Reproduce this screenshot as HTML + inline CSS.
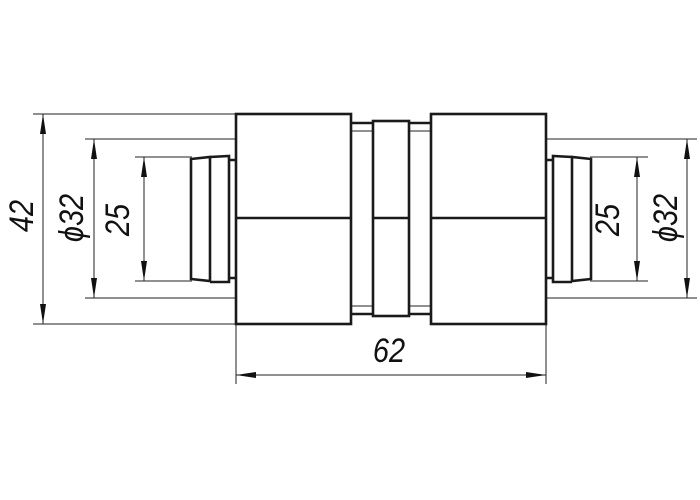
<!DOCTYPE html>
<html><head><meta charset="utf-8"><style>html,body{margin:0;padding:0;background:#fff}svg{display:block}</style></head>
<body>
<svg width="700" height="500" viewBox="0 0 700 500" xmlns="http://www.w3.org/2000/svg">
<defs>
<marker id="a" viewBox="0 0 20 6" refX="20" refY="3" markerWidth="20" markerHeight="6" markerUnits="userSpaceOnUse" orient="auto-start-reverse"><path d="M0,0 L20,3 L0,6 Z" fill="#111"/></marker>
</defs>
<g stroke="#222" stroke-width="1" fill="none">
<line x1="33" y1="114" x2="236" y2="114"/>
<line x1="33" y1="324" x2="236" y2="324"/>
<line x1="85" y1="139" x2="236" y2="139"/>
<line x1="85" y1="298" x2="236" y2="298"/>
<line x1="135" y1="157" x2="192" y2="157"/>
<line x1="135" y1="281" x2="192" y2="281"/>
<line x1="546" y1="139" x2="697" y2="139"/>
<line x1="546" y1="298" x2="697" y2="298"/>
<line x1="590" y1="157" x2="648" y2="157"/>
<line x1="590" y1="281" x2="648" y2="281"/>
<line x1="236" y1="324" x2="236" y2="384"/>
<line x1="546" y1="324" x2="546" y2="384"/>
<line x1="43" y1="114" x2="43" y2="324" marker-start="url(#a)" marker-end="url(#a)"/>
<line x1="94" y1="139" x2="94" y2="298" marker-start="url(#a)" marker-end="url(#a)"/>
<line x1="144" y1="157" x2="144" y2="281" marker-start="url(#a)" marker-end="url(#a)"/>
<line x1="637" y1="157" x2="637" y2="281" marker-start="url(#a)" marker-end="url(#a)"/>
<line x1="687" y1="139" x2="687" y2="298" marker-start="url(#a)" marker-end="url(#a)"/>
<line x1="236" y1="375" x2="546" y2="375" marker-start="url(#a)" marker-end="url(#a)"/>
<line x1="351" y1="131" x2="373" y2="131"/>
<line x1="351" y1="306" x2="373" y2="306"/>
<line x1="409" y1="131" x2="431" y2="131"/>
<line x1="409" y1="306" x2="431" y2="306"/>
</g>
<g stroke="#1a1a1a" stroke-width="2.6" fill="none" stroke-linejoin="miter">
<rect x="236" y="114" width="115" height="210"/>
<line x1="236" y1="218" x2="351" y2="218"/>
<rect x="431" y="114" width="115" height="210"/>
<line x1="431" y1="218" x2="546" y2="218"/>
<rect x="373" y="121" width="36" height="195"/>
<line x1="373" y1="218" x2="409" y2="218"/>
<line x1="351" y1="123" x2="373" y2="123"/>
<line x1="351" y1="314" x2="373" y2="314"/>
<line x1="409" y1="123" x2="431" y2="123"/>
<line x1="409" y1="314" x2="431" y2="314"/>
<path d="M191,159 L210,157 L210,281 L191,279 Z"/>
<path d="M210,157 L229,156 L229,282 L210,282"/>
<path d="M229,160 L236,160 M229,278 L236,278"/>
<path d="M591,159 L572,157 L572,281 L591,279 Z"/>
<path d="M572,157 L553,156 L553,282 L572,282"/>
<path d="M553,160 L546,160 M553,278 L546,278"/>
</g>
<g font-family="Liberation Sans, sans-serif" font-style="italic" font-size="34" fill="#111" text-anchor="middle">
<text transform="translate(389,362) scale(0.85,1)">62</text>
<text transform="translate(33,216) rotate(-90) scale(0.85,1)">42</text>
<text transform="translate(83,218) rotate(-90) scale(0.85,1)">ϕ32</text>
<text transform="translate(129,220) rotate(-90) scale(0.85,1)">25</text>
<text transform="translate(619,220) rotate(-90) scale(0.85,1)">25</text>
<text transform="translate(677,218) rotate(-90) scale(0.85,1)">ϕ32</text>
</g>
</svg>
</body></html>
